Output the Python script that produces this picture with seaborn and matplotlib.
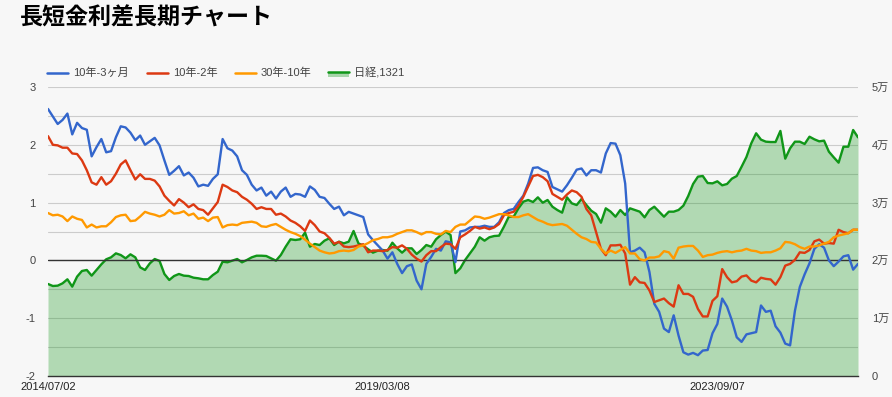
import numpy as np
import pandas as pd
import matplotlib
matplotlib.use("Agg")
import matplotlib.pyplot as plt
from matplotlib.lines import Line2D
from matplotlib.patches import Rectangle
import seaborn as sns

# ---------------- data ----------------
title = "長短金利差長期チャート"
series_names = ["10年-3ヶ月", "10年-2年", "30年-10年", "日経,1321"]
tick_labels = ["2014/07/02", "2019/03/08", "2023/09/07"]
tick_index = [0, 69, 138]

spread_10y_3m = [
    2.62, 2.49, 2.36, 2.43, 2.54, 2.18, 2.38, 2.29, 2.26, 1.80, 1.96, 2.10, 1.87, 1.89, 2.13,
    2.32, 2.30, 2.21, 2.08, 2.16, 2.00, 2.06, 2.12, 1.99, 1.73, 1.48, 1.55, 1.63, 1.47, 1.52,
    1.43, 1.28, 1.31, 1.29, 1.41, 1.49, 2.10, 1.94, 1.90, 1.80, 1.56, 1.48, 1.31, 1.21, 1.26,
    1.12, 1.19, 1.07, 1.19, 1.26, 1.10, 1.15, 1.14, 1.10, 1.28, 1.22, 1.10, 1.08, 0.98, 0.89,
    0.93, 0.78, 0.84, 0.81, 0.78, 0.75, 0.45, 0.35, 0.26, 0.17, 0.03, 0.14, -0.06, -0.22, -0.10,
    -0.07, -0.35, -0.50, -0.06, 0.06, 0.20, 0.17, 0.33, 0.31, -0.03, 0.50, 0.52, 0.57,
    0.58, 0.58, 0.60, 0.58, 0.58, 0.66, 0.82, 0.87, 0.89, 1.01, 1.12, 1.33, 1.60, 1.61, 1.56,
    1.53, 1.27, 1.23, 1.19, 1.30, 1.43, 1.57, 1.59, 1.47, 1.56, 1.56, 1.52, 1.85, 2.03, 2.02,
    1.82, 1.33, 0.14, 0.17, 0.22, 0.14, -0.20, -0.75, -0.89, -1.18, -1.24, -0.95, -1.30,
    -1.59, -1.63, -1.60, -1.64, -1.56, -1.55, -1.26, -1.10, -0.66, -0.80, -1.04, -1.33, -1.41,
    -1.28, -1.26, -1.24, -0.78, -0.89, -0.87, -1.14, -1.25, -1.44, -1.47, -0.87, -0.46, -0.24,
    -0.05, 0.20, 0.28, 0.22, 0.00, -0.10, -0.02, 0.07, 0.09, -0.16, -0.06,
]

spread_10y_2y = [
    2.15, 2.00, 1.99, 1.95, 1.95, 1.85, 1.84, 1.73, 1.56, 1.35, 1.31, 1.44, 1.31, 1.37, 1.50,
    1.66, 1.73, 1.56, 1.40, 1.49, 1.41, 1.41, 1.38, 1.28, 1.12, 1.03, 0.95, 1.06, 1.00, 0.92,
    0.97, 0.89, 0.87, 0.79, 0.90, 1.01, 1.31, 1.27, 1.21, 1.18, 1.10, 1.05, 0.98, 0.89, 0.92,
    0.89, 0.89, 0.79, 0.81, 0.76, 0.69, 0.65, 0.59, 0.51, 0.69, 0.61, 0.50, 0.47, 0.39, 0.29,
    0.32, 0.24, 0.23, 0.24, 0.26, 0.28, 0.14, 0.17, 0.17, 0.16, 0.18, 0.23, 0.22, 0.26, 0.20,
    0.10, 0.03, -0.02, 0.09, 0.16, 0.16, 0.23, 0.29, 0.28, 0.20, 0.40, 0.45, 0.51,
    0.58, 0.55, 0.57, 0.54, 0.57, 0.63, 0.78, 0.82, 0.84, 0.95, 1.10, 1.28, 1.46, 1.48, 1.44,
    1.37, 1.15, 1.10, 1.05, 1.14, 1.21, 1.18, 1.10, 0.89, 0.78, 0.49, 0.20, 0.09, 0.26, 0.26,
    0.27, 0.12, -0.42, -0.29, -0.38, -0.39, -0.52, -0.72, -0.69, -0.66, -0.74, -0.80, -0.43,
    -0.58, -0.58, -0.63, -0.84, -0.97, -0.97, -0.70, -0.62, -0.15, -0.29, -0.38, -0.36, -0.28,
    -0.26, -0.35, -0.38, -0.30, -0.32, -0.33, -0.42, -0.29, -0.09, -0.06, 0.01, 0.14, 0.13,
    0.18, 0.33, 0.36, 0.29, 0.30, 0.29, 0.53, 0.49, 0.47, 0.53, 0.53,
]

spread_30y_10y = [
    0.82, 0.78, 0.79, 0.76, 0.68, 0.76, 0.72, 0.70, 0.57, 0.62, 0.57, 0.59, 0.59, 0.66, 0.75,
    0.78, 0.79, 0.68, 0.69, 0.76, 0.84, 0.81, 0.79, 0.76, 0.79, 0.87, 0.81, 0.82, 0.85, 0.78,
    0.81, 0.72, 0.74, 0.68, 0.74, 0.75, 0.57, 0.61, 0.62, 0.61, 0.65, 0.66, 0.67, 0.65, 0.59,
    0.58, 0.61, 0.63, 0.58, 0.53, 0.49, 0.46, 0.42, 0.36, 0.29, 0.23, 0.17, 0.14, 0.12, 0.13,
    0.16, 0.17, 0.16, 0.18, 0.24, 0.26, 0.30, 0.35, 0.37, 0.40, 0.40, 0.42, 0.46, 0.49, 0.52,
    0.52, 0.49, 0.45, 0.49, 0.49, 0.46, 0.45, 0.51, 0.49, 0.58, 0.62, 0.62, 0.69,
    0.76, 0.75, 0.72, 0.74, 0.77, 0.80, 0.80, 0.78, 0.75, 0.75, 0.78, 0.80, 0.75, 0.70, 0.67,
    0.63, 0.61, 0.62, 0.63, 0.60, 0.53, 0.46, 0.40, 0.37, 0.32, 0.31, 0.20, 0.12, 0.17, 0.13,
    0.18, 0.23, 0.12, 0.12, 0.02, 0.00, 0.05, 0.05, 0.07, 0.16, 0.14, 0.03, 0.22,
    0.24, 0.25, 0.25, 0.17, 0.06, 0.09, 0.10, 0.13, 0.15, 0.16, 0.14, 0.16, 0.17,
    0.20, 0.17, 0.16, 0.13, 0.14, 0.14, 0.17, 0.21, 0.32, 0.31, 0.28, 0.23, 0.20,
    0.24, 0.24, 0.26, 0.29, 0.32, 0.40, 0.43, 0.45, 0.47, 0.53, 0.53,
]

nikkei = [
    15920, 15570, 15630, 16030, 16730, 15460, 17190, 18170, 18340, 17360, 18340, 19320, 20190, 20530, 21220,
    20930, 20360, 21050, 20530, 18800, 18340, 19490, 20240, 19900, 17650, 16610, 17300, 17650, 17360, 17300,
    17010, 16900, 16730, 16730, 17470, 18050, 19780, 19670, 19950, 20240, 19670, 20070, 20530, 20810, 20810,
    20760, 20360, 19950, 20930, 22370, 23650, 23530, 23650, 24800, 22370, 22840, 22660, 23410, 23820, 22660,
    23240, 22950, 23240, 25090, 22950, 22550, 21920, 21340, 21680, 21800, 21680, 23060, 22090, 21340, 22090,
    22090, 21110, 21800, 22660, 22370, 23650, 24390, 24970, 24390, 17800, 18630, 20070, 21220,
    22370, 24000, 23410, 24000, 24220, 24280, 25830, 27560, 27560, 29010, 30160, 30450, 30100, 30910, 29980,
    30450, 29290, 28720, 28260, 30910, 29870, 29580, 30620, 29580, 28600, 28030, 26520, 29010, 28430, 27560,
    28720, 27850, 29010, 28720, 28430, 27450, 28720, 29290, 28430, 27560, 28430, 28430, 28720,
    29470, 31140, 33220, 34490, 34600, 33390, 33330, 33680, 32990, 33220, 34140, 34600, 36210,
    37890, 40260, 41990, 40890, 40540, 40480, 40480, 42400, 37600, 39390, 40540, 40540, 40140,
    41400, 40950, 40600, 40720, 38810, 37830, 36910, 39670, 39670, 42560, 41290,
]

# ---------------- style ----------------
BG = "#f7f7f7"
C_BLUE, C_RED, C_ORANGE, C_GREEN = "#3366cc", "#dc3912", "#ff9900", "#109618"
FILL_ALPHA = 0.3
TXT = "#444444"

sns.set_style("white")
plt.rcParams["font.family"] = ["Liberation Sans", "Noto Sans CJK JP", "DejaVu Sans"]

df = pd.DataFrame({
    "idx": np.arange(len(nikkei)),
    "s1": spread_10y_3m,
    "s2": spread_10y_2y,
    "s3": spread_30y_10y,
    "nk": nikkei,
})

W, H = 892, 397
fig = plt.figure(figsize=(W / 100, H / 100), dpi=100, facecolor=BG)
L, R, T, B = 48, 858, 87, 376
rect = [L / W, 1 - B / H, (R - L) / W, (B - T) / H]
ax2 = fig.add_axes(rect)             # right axis (Nikkei) - behind
ax = fig.add_axes(rect, sharex=ax2)  # left axis (spreads) - front
ax.patch.set_visible(False)
ax2.set_facecolor(BG)

n = len(df)
ax2.set_xlim(0, n - 1)
ax2.set_ylim(0, 50000)
ax.set_ylim(-2, 3)

# gridlines every half step
for v in range(5000, 50001, 5000):
    ax2.axhline(v, color="#cccccc", lw=0.8, zorder=0)

# Nikkei area
ax2.fill_between(df["idx"], df["nk"], 0, color=C_GREEN, alpha=FILL_ALPHA, lw=0, zorder=1)
sns.lineplot(data=df, x="idx", y="nk", ax=ax2, color=C_GREEN, lw=1.7, zorder=2, legend=False)

# spread lines
ax.axhline(0, color="#333333", lw=1.0, zorder=1)
sns.lineplot(data=df, x="idx", y="s1", ax=ax, color=C_BLUE, lw=1.7, zorder=3, legend=False)
sns.lineplot(data=df, x="idx", y="s2", ax=ax, color=C_RED, lw=1.7, zorder=4, legend=False)
sns.lineplot(data=df, x="idx", y="s3", ax=ax, color=C_ORANGE, lw=1.7, zorder=5, legend=False)

# axes cosmetics
for a in (ax, ax2):
    for s in a.spines.values():
        s.set_visible(False)
    a.set_xlabel("")
    a.set_ylabel("")
ax2.spines["bottom"].set_visible(True)
ax2.spines["bottom"].set_color("#333333")
ax2.spines["bottom"].set_linewidth(1.0)

ax.set_yticks([-2, -1, 0, 1, 2, 3])
ax.set_yticklabels(["-2", "-1", "0", "1", "2", "3"])
ax.tick_params(axis="y", length=0, pad=9, labelsize=8, labelcolor=TXT)
ax.yaxis.set_ticks_position("left")

ax2.yaxis.tick_right()
ax2.set_yticks([0, 10000, 20000, 30000, 40000, 50000])
ax2.set_yticklabels(["0", "1万", "2万", "3万", "4万", "5万"])
ax2.tick_params(axis="y", length=0, pad=10, labelsize=8, labelcolor=TXT)

ax2.set_xticks(tick_index)
ax2.set_xticklabels(tick_labels)
ax2.tick_params(axis="x", length=0, pad=4, labelsize=8, labelcolor="#222222")
ax.tick_params(axis="x", labelbottom=False, length=0)

# title
fig.text(20 / W, 1 - 18 / H, title, fontsize=16.6, fontweight="bold", color="#000000",
         ha="left", va="center")

# legend (manual layout, pixel positions)
leg_y = 1 - 73 / H
leg_x = [47, 147, 235, 328]
leg_colors = [C_BLUE, C_RED, C_ORANGE, C_GREEN]
for i, (name, col, x0) in enumerate(zip(series_names, leg_colors, leg_x)):
    if i == 3:
        fig.patches.append(Rectangle((x0 / W, 1 - 77 / H), 21 / W, 5 / H,
                                     transform=fig.transFigure, facecolor=col,
                                     alpha=0.35, edgecolor="none"))
        fig.lines.append(Line2D([x0 / W, (x0 + 21) / W], [1 - 72 / H] * 2,
                                transform=fig.transFigure, color=col, lw=1.8))
    else:
        fig.lines.append(Line2D([x0 / W, (x0 + 21) / W], [leg_y] * 2,
                                transform=fig.transFigure, color=col, lw=1.8))
    fig.text((x0 + 26) / W, leg_y, name, fontsize=8, color=TXT, ha="left", va="center")

fig.savefig("out.png", dpi=100, facecolor=BG)
